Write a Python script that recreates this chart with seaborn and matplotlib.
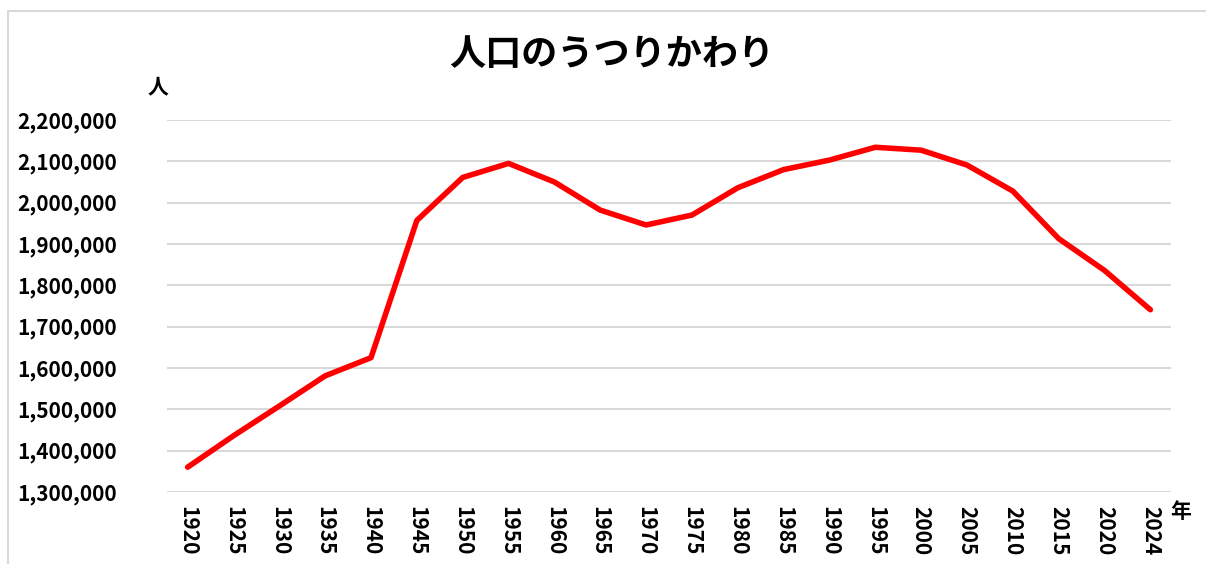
import matplotlib
matplotlib.use("Agg")
import matplotlib.pyplot as plt
import seaborn as sns
import pandas as pd
from matplotlib.ticker import FuncFormatter
from matplotlib.lines import Line2D

# population by year
years = ['1920', '1925', '1930', '1935', '1940', '1945', '1950', '1955', '1960', '1965',
         '1970', '1975', '1980', '1985', '1990', '1995', '2000', '2005', '2010', '2015',
         '2020', '2024']
population = [1360000, 1436000, 1508000, 1581000, 1625000, 1957000, 2061000, 2095000,
              2050000, 1982000, 1946000, 1970000, 2036000, 2080000, 2103000, 2134000,
              2127000, 2091000, 2028000, 1913000, 1836000, 1741000]

df = pd.DataFrame({'year': years, 'population': population})

sns.set_style('white')
plt.rcParams['font.family'] = ['Noto Sans CJK JP', 'DejaVu Sans']
plt.rcParams['font.weight'] = 'bold'
plt.rcParams['text.color'] = 'black'
plt.rcParams['xtick.color'] = 'black'
plt.rcParams['ytick.color'] = 'black'

fig = plt.figure(figsize=(12.06, 5.64), dpi=100)
ax = fig.add_axes([167 / 1206, 1 - 492 / 564, (1171 - 167) / 1206, (492 - 120) / 564])

sns.lineplot(data=df, x='year', y='population', sort=False, color='#ff0000',
             linewidth=4, ax=ax, solid_capstyle='round', solid_joinstyle='round')

ax.set_ylim(1300000, 2200000)
ax.set_yticks(range(1300000, 2200001, 100000))
ax.set_xlim(-0.45, len(years) - 0.55)
ax.yaxis.set_major_formatter(FuncFormatter(lambda v, p: f'{int(v):,}'))
ax.grid(axis='y', color='#d9d9d9', linewidth=1.5)
ax.set_axisbelow(True)
for s in ax.spines.values():
    s.set_visible(False)
ax.tick_params(axis='y', length=0, pad=36, labelsize=15, labelcolor='black')
ax.tick_params(axis='x', length=0, pad=10, labelsize=15, labelrotation=270, labelcolor='black')
for lab in ax.get_xticklabels() + ax.get_yticklabels():
    lab.set_fontweight('bold')
ax.set_xlabel('')
ax.set_ylabel('')

fig.text(0.507, 1 - 55 / 564, '人口のうつりかわり', ha='center', va='center',
         fontsize=26, fontweight='bold', color='black')
fig.text(158 / 1206, 1 - 87 / 564, '人', ha='center', va='center', fontsize=15,
         fontweight='bold', color='black')
fig.text(1181 / 1206, 1 - 512 / 564, '年', ha='center', va='center', fontsize=15,
         fontweight='bold', color='black')

# chart area border
fig.add_artist(Line2D([8 / 1206, 1], [1 - 11 / 564, 1 - 11 / 564], color='#d9d9d9', lw=1.5,
                      transform=fig.transFigure))
fig.add_artist(Line2D([8 / 1206, 8 / 1206], [0, 1 - 11 / 564], color='#d9d9d9', lw=1.5,
                      transform=fig.transFigure))

fig.savefig('out.png', dpi=100)
